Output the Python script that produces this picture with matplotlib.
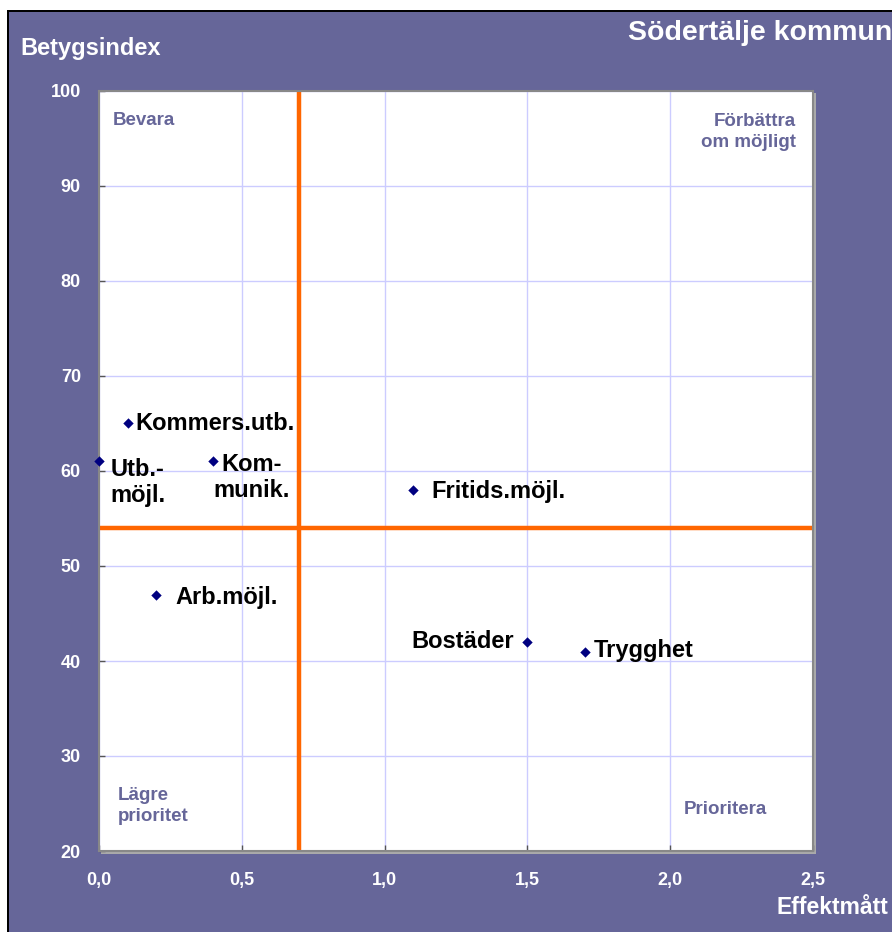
import matplotlib
matplotlib.use("Agg")
import matplotlib.pyplot as plt
from matplotlib.patches import Rectangle

# ---- data ----
labels = ["Kommers.utb.", "Utb.-\nmöjl.", "Kom-\nmunik.", "Fritids.möjl.", "Arb.möjl.", "Bostäder", "Trygghet"]
effekt = [0.1, 0.0, 0.4, 1.1, 0.2, 1.5, 1.7]
betyg = [65, 61, 61, 58, 47, 42, 41]
x_ticks = [0.0, 0.5, 1.0, 1.5, 2.0, 2.5]
x_ticklabels = ["0,0", "0,5", "1,0", "1,5", "2,0", "2,5"]
y_ticks = [20, 30, 40, 50, 60, 70, 80, 90, 100]
x_split = 0.7
y_split = 54
title = "Södertälje kommun"
xlabel = "Effektmått"
ylabel = "Betygsindex"
quadrants = ["Bevara", "Förbättra\nom möjligt", "Lägre\nprioritet", "Prioritera"]

# ---- style ----
PURPLE = "#666699"
ORANGE = "#FF6600"
GRID = "#CCCCFF"
FONT = ["Liberation Sans", "DejaVu Sans"]
plt.rcParams["font.family"] = FONT

W, H = 892, 932
fig = plt.figure(figsize=(W / 100, H / 100), dpi=100, facecolor="white")

# background frame (figure pixel coords)
def px_rect(x0, y0, x1, y1, color, z=-10):
    fig.patches.append(Rectangle((x0 / W, 1 - y1 / H), (x1 - x0) / W, (y1 - y0) / H,
                                 transform=fig.transFigure, facecolor=color,
                                 edgecolor="none", zorder=z))

px_rect(7, 10, W, H, "black")
px_rect(9, 12, W, H, PURPLE)
# plot-area shadow
px_rect(101, 93, 816, 854, "#AAAAAA", z=-5)

ax = fig.add_axes([99 / W, 1 - 851 / H, (813 - 99) / W, (851 - 91) / H])
ax.set_zorder(1)
ax.set_facecolor("white")
ax.set_xlim(0, 2.5)
ax.set_ylim(20, 100)
ax.set_xticks(x_ticks)
ax.set_xticklabels(x_ticklabels)
ax.set_yticks(y_ticks)
ax.grid(True, color=GRID, linewidth=1.0, zorder=0)
ax.set_axisbelow(True)
for s in ax.spines.values():
    s.set_color("#888888")
    s.set_linewidth(1.5)
ax.tick_params(direction="in", length=4, color="#555555", width=1,
               labelcolor="white", labelsize=13, pad=13)
ax.tick_params(axis="x", pad=15)
for t in ax.get_xticklabels() + ax.get_yticklabels():
    t.set_fontweight("bold")

ax.axvline(x_split, color=ORANGE, linewidth=3.2, zorder=2)
ax.axhline(y_split, color=ORANGE, linewidth=3.2, zorder=2)

ax.scatter(effekt, betyg, marker="D", s=28, color="#000080", zorder=4, linewidths=0,
           clip_on=False)

# label offsets in pixels (dx, dy), alignment
offsets = [(8, 0, "left"), (39, -21, "center"), (38, -16, "center"),
           (18, -2, "left"), (19, -3, "left"), (-13, 0, "right"), (9, 1, "left")]
for lab, xv, yv, (dx, dy, ha) in zip(labels, effekt, betyg, offsets):
    ax.annotate(lab, (xv, yv), xytext=(dx * 0.72, dy * 0.72), textcoords="offset points",
                ha=ha, va="center", ma="center", fontsize=17, fontweight="bold",
                color="black", linespacing=1.15, zorder=5)

# quadrant labels
qkw = dict(color=PURPLE, fontsize=13.5, fontweight="bold", transform=ax.transAxes,
           linespacing=1.3)
ax.text((113 - 99) / 714, 1 - (121 - 91) / 760, quadrants[0], ha="left", va="center", **qkw)
ax.text((796 - 99) / 714, 1 - (132 - 91) / 760, quadrants[1], ha="right", va="center", ma="right", **qkw)
ax.text((118 - 99) / 714, 1 - (806 - 91) / 760, quadrants[2], ha="left", va="center", **qkw)
ax.text((684 - 99) / 714, 1 - (810 - 91) / 760, quadrants[3], ha="left", va="center", **qkw)

fig.text(20 / W, 1 - 48 / H, ylabel, color="white", fontsize=17, fontweight="bold",
         ha="left", va="center")
fig.text(628 / W, 1 - 33 / H, title, color="white", fontsize=20.5, fontweight="bold",
         ha="left", va="center")
fig.text(888 / W, 1 - 908 / H, xlabel, color="white", fontsize=16.5, fontweight="bold",
         ha="right", va="center")

fig.savefig("out.png", dpi=100, facecolor="white")
